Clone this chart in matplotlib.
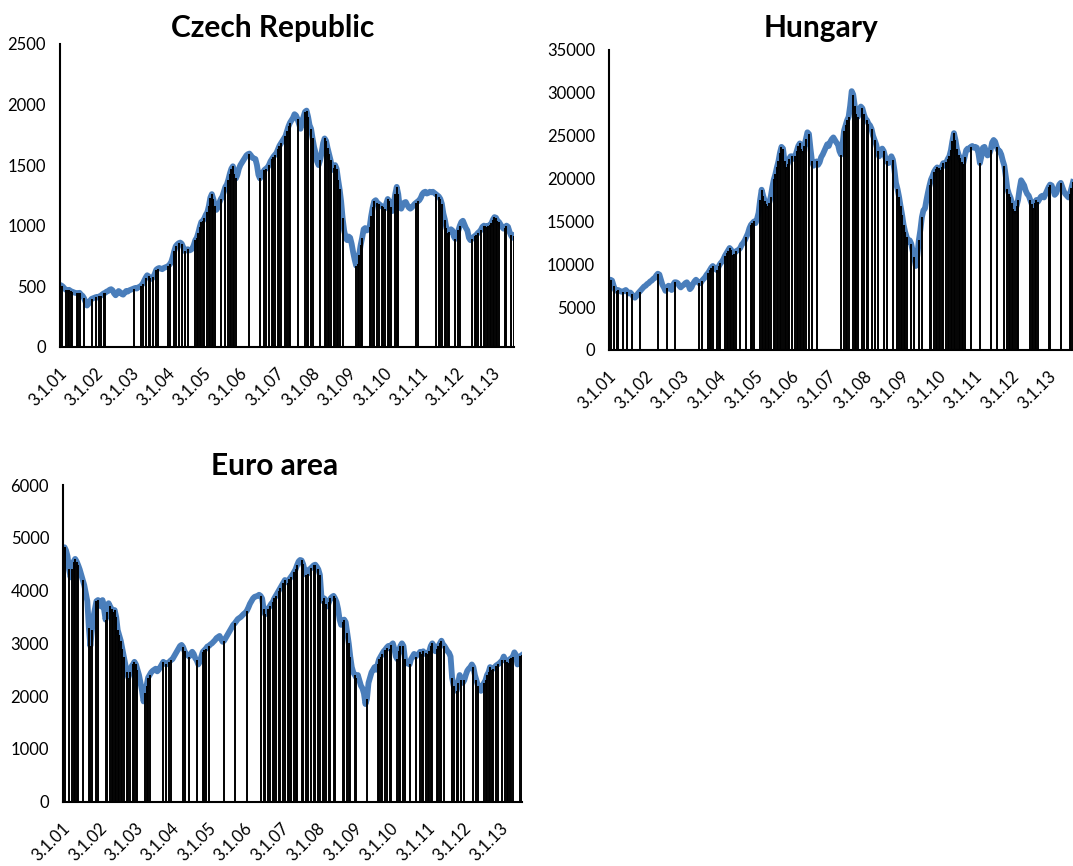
import numpy as np
import matplotlib
matplotlib.use("Agg")
import matplotlib.pyplot as plt
import matplotlib.transforms as mtransforms

plt.rcParams['font.family'] = ['Lato', 'DejaVu Sans']

# index levels every half month from 3.1.2001, one row per year
czech = [
    510, 505, 495, 480, 470, 465, 470, 460, 455, 450, 445, 443, 440, 445, 430, 420, 400, 370, 340, 355, 380, 395, 400, 405,
    410, 405, 415, 420, 430, 440, 445, 455, 460, 470, 475, 465, 440, 425, 440, 460, 450, 435, 430, 445, 460, 455, 465, 470,
    475, 480, 485, 480, 490, 495, 505, 520, 545, 570, 590, 580, 565, 560, 575, 600, 635, 645, 650, 645, 640, 650, 655, 660,
    665, 680, 700, 740, 790, 830, 845, 855, 860, 850, 820, 790, 800, 805, 795, 800, 810, 840, 880, 900, 940, 990, 1030, 1040,
    1060, 1090, 1110, 1160, 1230, 1260, 1220, 1160, 1130, 1150, 1190, 1220, 1240, 1280, 1320, 1340, 1380, 1430, 1470, 1490, 1430, 1390, 1420, 1470,
    1500, 1520, 1540, 1560, 1580, 1590, 1595, 1580, 1560, 1555, 1550, 1500, 1420, 1390, 1410, 1440, 1460, 1470, 1480, 1500, 1530, 1550, 1570, 1585,
    1600, 1630, 1660, 1680, 1700, 1720, 1740, 1780, 1820, 1850, 1870, 1890, 1920, 1910, 1880, 1840, 1800, 1860, 1900, 1940, 1950, 1900, 1830, 1800,
    1720, 1650, 1600, 1530, 1500, 1540, 1600, 1680, 1720, 1700, 1640, 1590, 1540, 1460, 1480, 1500, 1470, 1380, 1300, 1200, 1060, 960, 900, 880,
    910, 900, 850, 780, 720, 670, 680, 760, 840, 900, 970, 980, 960, 970, 990, 1080, 1150, 1200, 1210, 1190, 1180, 1170, 1160, 1150,
    1140, 1180, 1220, 1200, 1150, 1120, 1180, 1260, 1320, 1260, 1150, 1140, 1170, 1190, 1195, 1170, 1150, 1140, 1150, 1165, 1180, 1190, 1200, 1210,
    1230, 1260, 1275, 1280, 1265, 1270, 1280, 1275, 1280, 1270, 1260, 1250, 1240, 1220, 1180, 1100, 1050, 980, 940, 950, 970, 960, 910, 890,
    920, 960, 1000, 1030, 1040, 1010, 980, 960, 900, 880, 890, 905, 915, 925, 940, 950, 965, 990, 1000, 995, 990, 1000, 1005, 1020,
    1050, 1070, 1065, 1040, 1030, 1010, 990, 975, 980, 1000, 990, 950, 920, 900, 915,
]

hungary = [
    7900, 8200, 8100, 7500, 7000, 6900, 7000, 6900, 6800, 6800, 6900, 7000, 6800, 6600, 6700, 6500, 6200, 6100, 6300, 6600, 6800, 7000, 7200, 7400,
    7500, 7700, 7800, 8000, 8100, 8300, 8400, 8700, 8900, 8800, 8200, 7600, 7300, 6900, 7200, 7500, 7300, 7000, 7600, 7900, 7900, 7800, 7500, 7300,
    7500, 7600, 7800, 7900, 7600, 7100, 7300, 7700, 8000, 8200, 8000, 7800, 7800, 8100, 8300, 8500, 8800, 9000, 9300, 9600, 9800, 9600, 9400, 9300,
    9800, 10100, 10300, 10600, 11000, 11300, 11600, 11900, 11700, 11100, 11200, 11500, 11600, 11700, 11900, 12300, 12500, 12800, 13200, 13600, 14200, 14600, 14800, 15000,
    14800, 15300, 16000, 17500, 18700, 18000, 17400, 17000, 16800, 17200, 17900, 19000, 19900, 20500, 21300, 22000, 23000, 23700, 23500, 22000, 21300, 21700, 22300, 22600,
    22600, 22300, 22600, 23200, 23800, 24100, 23500, 23200, 23800, 24600, 25400, 25200, 23500, 22000, 21500, 21700, 22000, 21600, 21900, 22500, 22800, 23200, 23600, 24000,
    23800, 24300, 24600, 24800, 24500, 24200, 24000, 23200, 22800, 24000, 25600, 26200, 26800, 27200, 28500, 30200, 29800, 28500, 27500, 27200, 27800, 28400, 28200, 27500,
    27000, 26800, 26400, 26200, 25800, 25000, 24500, 24000, 23200, 22600, 23000, 23500, 23200, 22500, 22000, 21800, 22200, 22600, 22200, 21000, 19500, 18800, 17900, 16800,
    15800, 14600, 13800, 13200, 12600, 12800, 12400, 11500, 10800, 9800, 11000, 12800, 14000, 15500, 16300, 16500, 17500, 18400, 19200, 19900, 20300, 20800, 21100, 21300,
    21200, 21000, 21400, 21800, 21500, 21900, 22300, 22600, 23300, 24400, 25300, 24500, 23400, 22800, 22400, 21900, 21700, 22500, 23300, 23500, 23400, 23700, 23800, 23600,
    23700, 23600, 23000, 21800, 22600, 23600, 23700, 23200, 22700, 22800, 23300, 24200, 24500, 24300, 23700, 23300, 23200, 22800, 22100, 21500, 20200, 18800, 18200, 17800,
    17200, 16500, 16200, 16800, 17500, 18800, 19800, 19500, 19200, 18600, 18200, 18000, 17500, 17000, 16600, 17200, 17500, 17300, 17600, 17900, 18000, 17800, 18200, 18600,
    19000, 19300, 19200, 18700, 18100, 18300, 18800, 19300, 19500, 19000, 18500, 18200, 18000, 17800, 18200, 18900, 19600,
]

euro = [
    4750, 4820, 4760, 4650, 4400, 4250, 4400, 4550, 4600, 4550, 4480, 4400, 4300, 4200, 4100, 3950, 3800, 3300, 2950, 3250, 3500, 3650, 3800, 3820,
    3800, 3700, 3820, 3650, 3450, 3600, 3760, 3700, 3650, 3600, 3630, 3500, 3250, 3150, 3050, 2900, 2750, 2600, 2450, 2350, 2450, 2560, 2600, 2650,
    2600, 2500, 2400, 2250, 2100, 1900, 2050, 2200, 2350, 2400, 2450, 2480, 2500, 2520, 2470, 2500, 2550, 2600, 2650, 2620, 2600, 2630, 2650, 2680,
    2700, 2750, 2800, 2850, 2900, 2950, 2970, 2930, 2850, 2800, 2780, 2750, 2800, 2840, 2800, 2720, 2680, 2600, 2650, 2750, 2840, 2870, 2900, 2940,
    2950, 2980, 3000, 3030, 3060, 3100, 3120, 3140, 3080, 3030, 3050, 3100, 3150, 3200, 3250, 3300, 3350, 3380, 3420, 3460, 3480, 3500, 3530, 3560,
    3580, 3620, 3680, 3750, 3800, 3850, 3880, 3890, 3900, 3920, 3900, 3850, 3650, 3550, 3600, 3660, 3700, 3750, 3780, 3850, 3900, 3950, 4000, 4050,
    4100, 4150, 4200, 4180, 4150, 4220, 4260, 4300, 4350, 4400, 4480, 4550, 4580, 4570, 4500, 4380, 4300, 4320, 4400, 4420, 4450, 4480, 4490, 4450,
    4400, 4300, 3900, 3800, 3850, 3750, 3700, 3780, 3850, 3880, 3900, 3850, 3780, 3650, 3450, 3350, 3400, 3450, 3400, 3200, 3000, 2750, 2550, 2450,
    2400, 2350, 2400, 2300, 2200, 2150, 2050, 1850, 1950, 2250, 2350, 2450, 2500, 2550, 2500, 2600, 2700, 2750, 2800, 2850, 2880, 2920, 2950, 2900,
    2970, 3000, 2900, 2750, 2700, 2850, 2950, 3000, 2950, 2700, 2620, 2650, 2600, 2700, 2750, 2800, 2750, 2780, 2800, 2840, 2800, 2850, 2800, 2820,
    2800, 2850, 2950, 3000, 2950, 2850, 2900, 2950, 3000, 3050, 2980, 2950, 2900, 2850, 2820, 2750, 2350, 2200, 2150, 2100, 2250, 2400, 2300, 2250,
    2300, 2400, 2480, 2520, 2550, 2600, 2550, 2400, 2300, 2200, 2150, 2100, 2200, 2250, 2300, 2400, 2450, 2550, 2500, 2520, 2550, 2580, 2600, 2620,
    2650, 2680, 2750, 2680, 2650, 2620, 2700, 2720, 2750, 2830, 2780, 2600, 2650, 2760, 2780,
]

# half-month steps (positions in the series above) flagged by the indicator
czech_days = [0, 1, 4, 5, 6, 7, 8, 11, 12, 13, 16, 21, 24, 26, 27, 29, 30, 49,
              54, 55, 57, 59, 60, 62, 64, 65, 72, 73, 76, 77, 79, 81, 83, 85,
              90, 91, 92, 93, 94, 95, 96, 98, 99, 100, 101, 102, 103, 107, 110,
              112, 113, 114, 115, 116, 117, 126, 133, 136, 137, 139, 141, 142, 143,
              145, 146, 147, 150, 151, 152, 153, 158, 163, 164, 165, 167, 168, 173,
              176, 177, 178, 179, 180, 182, 183, 184, 185, 186, 188,
              197, 198, 199, 200, 201, 206, 207, 208, 209, 211, 212, 214, 215, 216,
              218, 219, 220, 223, 224, 225, 237, 238, 250, 252, 253, 254,
              256, 257, 258, 259, 263, 265, 266, 274, 276, 277, 278, 280,
              282, 283, 284, 285, 286, 287, 288, 289, 290, 291, 292, 296, 297, 300, 302]

hungary_days = [0, 1, 3, 5, 6, 9, 12, 15, 20, 32, 38, 43, 59, 61, 65, 66, 67, 68,
                71, 72, 73, 76, 77, 78, 79, 80, 81, 82, 83, 86, 90, 93, 94, 95,
                99, 100, 101, 102, 103, 104, 105, 106, 108, 109, 110, 111, 112, 113,
                114, 115, 116, 117, 118, 120, 122, 123, 124, 125, 126, 127, 128, 129,
                131, 133, 136, 152, 154, 155, 156, 157, 160, 161, 162, 163, 166, 167,
                169, 170, 172, 174, 176, 180, 182, 186, 189, 190, 191, 192, 193,
                194, 195, 198, 200, 203, 205, 210, 211, 213, 214, 215, 216, 217, 218,
                219, 221, 222, 223, 224, 225, 226, 227, 228, 229, 230, 231, 232, 233,
                237, 243, 250, 254, 259, 261, 262, 263, 264, 265, 266, 267, 268,
                276, 277, 278, 279, 280, 281, 288, 289, 296, 302, 303, 304]

euro_days = [1, 4, 6, 7, 8, 9, 10, 13, 17, 18, 19, 22, 23, 28, 29, 31, 32, 33, 34,
             35, 36, 37, 38, 39, 40, 42, 43, 44, 46, 47, 48, 49, 54, 55, 56, 57,
             66, 68, 70, 71, 79, 80, 83, 88, 92, 93, 94, 96, 106, 113, 121, 130,
             132, 133, 135, 136, 138, 139, 140, 142, 143, 145, 146, 148, 149, 150,
             152, 153, 154, 157, 158, 160, 161, 163, 165, 166, 168, 169, 171, 172,
             173, 175, 176, 178, 179, 184, 185, 187, 188, 189, 192, 193, 200, 207,
             208, 209, 210, 212, 213, 215, 216, 220, 221, 222, 224, 225, 228, 232,
             235, 236, 237, 239, 240, 241, 242, 243, 246, 247, 248, 249, 251, 256,
             257, 259, 260, 262, 264, 270, 272, 273, 277, 278, 279, 280, 281, 282,
             283, 285, 286, 289, 291, 292, 293, 294, 295, 296, 301, 302]

year_labels = ["3.1.01", "3.1.02", "3.1.03", "3.1.04", "3.1.05", "3.1.06", "3.1.07",
               "3.1.08", "3.1.09", "3.1.10", "3.1.11", "3.1.12", "3.1.13"]

fig = plt.figure(figsize=(10.73, 8.66), dpi=100)
W, H = 1073., 866.
# nudge the slanted date labels so their ends sit at the ticks
shift = mtransforms.ScaledTranslation(0.045, -0.07, fig.dpi_scale_trans)


def panel(left, right, top, bottom, values, days, ymax, ystep, title, tx, ty):
    ax = fig.add_axes([left / W, 1 - bottom / H, (right - left) / W, (bottom - top) / H])
    values = np.array(values, dtype=float)
    t = 2001 + np.arange(len(values)) / 24.
    ax.plot(t, values, color="#4a7ebb", lw=4.2, solid_joinstyle="round", zorder=2)
    ax.vlines(t[days], 0, values[days], colors="black", lw=1.4, zorder=3)
    ax.set_xlim(t[0], t[-1])
    ax.set_ylim(0, ymax)
    ax.set_yticks(np.arange(0, ymax + 1, ystep))
    ax.set_xticks(2001 + np.arange(len(year_labels)))
    ax.tick_params(axis="x", length=0, pad=12, labelsize=12)
    ax.tick_params(axis="y", length=0, pad=10, labelsize=12)
    ax.set_xticklabels(year_labels, rotation=45, ha="right", va="center", rotation_mode="anchor")
    for s in ["top", "right"]:
        ax.spines[s].set_visible(False)
    for s in ["left", "bottom"]:
        ax.spines[s].set_linewidth(1.5)
        ax.spines[s].set_color("black")
        ax.spines[s].set_zorder(4)
    for lab in ax.get_xticklabels():
        lab.set_transform(lab.get_transform() + shift)
    fig.text(tx / W, 1 - ty / H, title, ha="center", va="baseline", fontsize=21.5, fontweight="bold")
    return ax


panel(60, 514, 44, 346.7, czech, czech_days, 2500, 500, "Czech Republic", 273, 37)
panel(609, 1073, 50, 350, hungary, hungary_days, 35000, 5000, "Hungary", 821, 37)
panel(63, 522, 485, 801.7, euro, euro_days, 6000, 1000, "Euro area", 275, 475)

plt.savefig("out.png", dpi=100)
